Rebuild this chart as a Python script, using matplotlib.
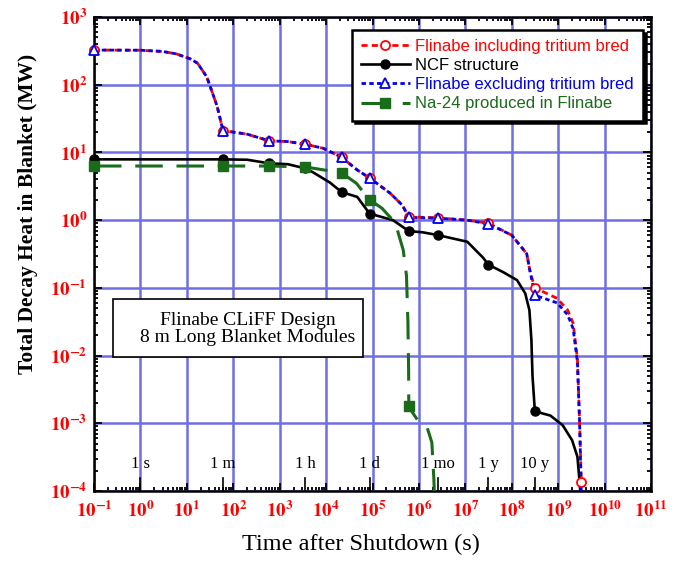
import numpy as np
import matplotlib
matplotlib.use("Agg")
import matplotlib.pyplot as plt
from matplotlib.ticker import LogLocator, FuncFormatter, NullFormatter
from matplotlib.patches import Rectangle
import matplotlib.transforms as mtransforms

plt.rcParams['font.family'] = ['Liberation Serif', 'DejaVu Serif']
plt.rcParams['mathtext.fontset'] = 'stix'

# time after shutdown (s), Flinabe curves
t_flibe = [0.1, 1, 3, 6, 12, 17, 27, 45, 60, 200, 600, 1450, 3600, 8700, 21600,
           4.7e4, 86400, 2.4e5, 4.4e5, 6.05e5, 2.6e6, 1.1e7, 3.15e7, 1e8, 2.1e8,
           2.5e8, 3.15e8, 9.5e8, 1.6e9, 2.1e9, 2.6e9, 2.9e9, 3.15e9]
q_incl = [325, 323, 310, 285, 240, 208, 130, 48, 21, 18.6, 14.8, 14.5, 13.2, 11.5, 8.5,
          5.5, 4.2, 2.5, 1.66, 1.12, 1.08, 1.0, 0.9, 0.6, 0.32,
          0.17, 0.1, 0.07, 0.047, 0.03, 0.009, 0.001, 1.35e-4]
q_excl = [325, 323, 310, 285, 240, 208, 130, 48, 21, 18.6, 14.8, 14.5, 13.2, 11.5, 8.5,
          5.5, 4.2, 2.5, 1.66, 1.1, 1.07, 1.0, 0.88, 0.6, 0.32,
          0.17, 0.078, 0.06, 0.04, 0.025, 0.008, 0.001, 9e-5]
mk_incl = [0, 8, 10, 12, 14, 16, 19, 20, 22, 26, 32]
mk_excl = [0, 8, 10, 12, 14, 16, 19, 20, 22, 26]

# NCF structure
t_ncf = [0.1, 1, 60, 200, 600, 1500, 3600, 5200, 12000, 21600, 4.7e4, 86400,
         2.75e5, 6.05e5, 1.23e6, 2.6e6, 1.1e7, 2.4e7, 3.15e7, 6.6e7, 1.3e8, 1.95e8,
         2.4e8, 2.65e8, 2.8e8, 3.15e8, 6.8e8, 1.26e9, 2.0e9, 2.6e9, 2.9e9, 3.15e9]
q_ncf = [7.9, 7.9, 7.9, 7.8, 6.9, 6.7, 5.8, 5.1, 3.6, 2.6, 2.2, 1.25,
         1.0, 0.69, 0.66, 0.6, 0.48, 0.28, 0.22, 0.17, 0.13, 0.083,
         0.047, 0.017, 0.005, 1.5e-3, 1.3e-3, 9.3e-4, 5.6e-4, 3.2e-4, 1.35e-4, 6e-5]
mk_ncf = [0, 2, 4, 6, 9, 11, 13, 15, 18, 25]

# Na-24 in Flinabe
t_na = [0.1, 1, 60, 600, 3600, 21600, 4.5e4, 86400, 1.6e5, 3.1e5, 4.6e5, 5.4e5,
        5.8e5, 6.0e5, 6.05e5, 7e5, 9.5e5, 1.5e6, 1.9e6, 2.1e6, 2.2e6]
q_na = [6.3, 6.3, 6.3, 6.3, 6.1, 5.0, 3.5, 2.0, 1.5, 0.91, 0.36, 0.15,
        0.03, 0.006, 1.8e-3, 1.5e-3, 1.1e-3, 8.7e-4, 5.2e-4, 1.5e-4, 6e-5]
mk_na = [0, 2, 3, 4, 5, 7, 14]

# reference times
t_ref = [1, 60, 3600, 86400, 2.6e6, 3.15e7, 3.15e8]
ref_labels = ['1 s', '1 m', '1 h', '1 d', '1 mo', '1 y', '10 y']

fig = plt.figure(figsize=(6.78, 5.64), dpi=100)
ax = fig.add_axes([94 / 678, 1 - 491 / 564, 557 / 678, 474 / 564])
ax.set_xscale('log')
ax.set_yscale('log')
ax.set_xlim(0.1, 1e11)
ax.set_ylim(1e-4, 1e3)

ax.grid(True, which='major', color='#6f6fe4', lw=1.8, zorder=0)
ax.set_axisbelow(True)

series = [
    (t_flibe, q_incl, mk_incl, dict(color='red', lw=2, dashes=(2.2, 1.5)),
     dict(marker='o', ms=6.5, mfc='white', mec='red', mew=1.3), 'Flinabe including tritium bred', 'red'),
    (t_ncf, q_ncf, mk_ncf, dict(color='black', lw=1.9),
     dict(marker='o', ms=6.5, mfc='black', mec='black'), 'NCF structure', 'black'),
    (t_flibe, q_excl, mk_excl, dict(color='#0000ee', lw=2, dashes=(1.6, 1.2)),
     dict(marker='^', ms=7, mfc='white', mec='#0000ee', mew=1.3), 'Flinabe excluding tritium bred', '#0000ee'),
    (t_na, q_na, mk_na, dict(color='#1a6b1a', lw=2.2, dashes=(9, 4.5)),
     dict(marker='s', ms=7, mfc='#1a6b1a', mec='#1a6b1a'), 'Na-24 produced in Flinabe', '#1a6b1a'),
]

handles = []
for t, q, mk, lstyle, mstyle, lab, col in series:
    t = np.array(t)
    q = np.array(q)
    ax.plot(t, q, zorder=3, **lstyle)
    ax.plot(t[mk], q[mk], ls='none', clip_on=False, zorder=4, **mstyle)
    h, = ax.plot([], [], label=lab, **lstyle, **mstyle)
    handles.append(h)

leg = ax.legend(handles=handles, loc='upper right', bbox_to_anchor=(0.986, 0.973),
                borderaxespad=0, fancybox=False, framealpha=1, edgecolor='black',
                shadow={'color': 'black', 'alpha': 1},
                prop={'family': 'Liberation Sans', 'size': 12},
                handlelength=2.9, handletextpad=0.35, labelspacing=0.25,
                borderpad=0.55)
leg.get_frame().set_linewidth(1.8)
leg.set_zorder(10)
for txt, s in zip(leg.get_texts(), series):
    txt.set_color(s[6])

# reference time marks
trans = mtransforms.blended_transform_factory(ax.transData, ax.transAxes)
for tr, lab in zip(t_ref, ref_labels):
    ax.plot([tr, tr], [0, 0.027], color='black', lw=1.2, transform=trans, zorder=2)
    ax.text(tr, 0.058, lab, transform=trans, ha='center', va='center', fontsize=12)

# design note box
ax.add_patch(Rectangle((0.034, 0.283), 0.449, 0.122, transform=ax.transAxes,
                       fc='white', ec='black', lw=1.2, zorder=5))
ax.text(0.276, 0.342, 'Flinabe CLiFF Design\n8 m Long Blanket Modules',
        transform=ax.transAxes, ha='center', va='center', fontsize=14,
        linespacing=1.0, zorder=6)


def make_fmt(lo, hi):
    def f(v, p):
        if v < lo * 0.999 or v > hi * 1.001:
            return ''
        return r'$\mathbf{10^{%d}}$' % int(round(np.log10(v)))
    return FuncFormatter(f)


for axis, lims in ((ax.xaxis, ax.get_xlim()), (ax.yaxis, ax.get_ylim())):
    axis.set_major_locator(LogLocator(base=10, numticks=20))
    axis.set_minor_locator(LogLocator(base=10, subs=np.arange(2, 10), numticks=20))
    axis.set_major_formatter(make_fmt(*lims))
    axis.set_minor_formatter(NullFormatter())

ax.tick_params(which='both', direction='in', top=True, right=True, width=1.3,
               labelcolor='red', labelsize=13.5)
ax.tick_params(which='major', length=6)
ax.tick_params(which='minor', length=3)
ax.tick_params(axis='x', pad=7)
ax.tick_params(axis='y', pad=5)
for sp in ax.spines.values():
    sp.set_linewidth(1.8)

ax.set_ylabel('Total Decay Heat in Blanket (MW)', fontsize=15.5, fontweight='bold')
ax.yaxis.set_label_coords(-0.1, 0.585)
ax.set_xlabel('Time after Shutdown (s)', fontsize=17.5)
ax.xaxis.set_label_coords(0.48, -0.09)

fig.savefig('out.png', dpi=100)
